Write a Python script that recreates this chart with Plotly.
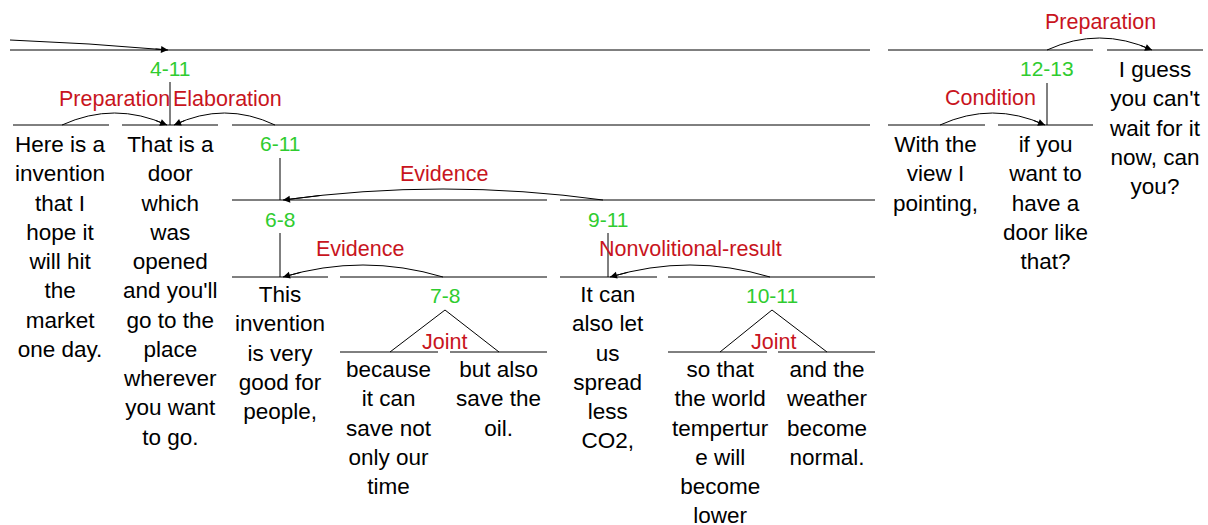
import plotly.graph_objects as go

# ---------------- data ----------------
# elementary discourse units (text, centre x, y of first line)
edu_text = [
    "Here is a<br>invention<br>that I<br>hope it<br>will hit<br>the<br>market<br>one day.",
    "That is a<br>door<br>which<br>was<br>opened<br>and you'll<br>go to the<br>place<br>wherever<br>you want<br>to go.",
    "This<br>invention<br>is very<br>good for<br>people,",
    "because<br>it can<br>save not<br>only our<br>time",
    "but also<br>save the<br>oil.",
    "It can<br>also let<br>us<br>spread<br>less<br>CO2,",
    "so that<br>the world<br>tempertur<br>e will<br>become<br>lower",
    "and the<br>weather<br>become<br>normal.",
    "With the<br>view I<br>pointing,",
    "if you<br>want to<br>have a<br>door like<br>that?",
    "I guess<br>you can't<br>wait for it<br>now, can<br>you?",
]
edu_x = [60, 170, 280, 389, 498, 608, 720, 827, 935, 1045, 1155]
edu_y = [145, 145, 295, 370, 370, 295, 370, 370, 145, 145, 70]

# horizontal span lines (x0, x1, y)
hline_x0 = [10, 888, 1107, 13, 122, 232, 888, 998, 232, 560, 232, 340, 560, 668, 340, 450, 668, 778]
hline_x1 = [870, 1093, 1203, 109, 218, 870, 985, 1093, 547, 875, 328, 547, 657, 875, 438, 547, 767, 875]
hline_y = [50, 50, 50, 125, 125, 125, 125, 125, 200, 200, 277, 277, 277, 277, 352, 352, 352, 352]

# span labels (green) and their nucleus lines
span_labels = ["4-11", "6-11", "6-8", "9-11", "7-8", "10-11", "12-13"]
span_x = [170, 280, 280, 608, 445, 772, 1047]
span_y = [68, 143, 219, 219, 295, 295, 68]

vline_x = [170, 280, 280, 608, 1047]
vline_y0 = [82, 158, 233, 233, 83]
vline_y1 = [125, 200, 277, 277, 125]

# joint triangles (apex x, apex y, left x, right x, base y)
tri_apex_x = [445, 772]
tri_apex_y = [310, 310]
tri_left_x = [390, 720]
tri_right_x = [499, 827]
tri_base_y = [352, 352]

# relation labels (red)
rel_labels = ["Preparation", "Elaboration", "Evidence", "Evidence",
              "Nonvolitional-result", "Joint", "Joint", "Condition", "Preparation"]
rel_x = [114, 227, 444, 360, 690, 444, 773, 990, 1100]
rel_y = [99, 99, 174, 249, 249, 342, 342, 98, 22]

# satellite -> nucleus arcs (start x, end x, baseline y, peak height)
arc_x0 = [62, 275, 603, 443, 770, 940, 1047]
arc_x1 = [167, 174, 283, 283, 610, 1045, 1152]
arc_y = [125, 125, 200, 277, 277, 125, 50]
arc_h = [12, 12, 11, 12, 12, 12, 12]

# incoming arrow from off-screen
in_x0, in_y0, in_x1, in_y1 = 10, 40, 168, 50

BLACK = "#000000"
GREEN = "#2fcc2f"
RED = "#c81420"
FONT = "Liberation Sans, Arial, sans-serif"

fig = go.Figure()
shapes = []
annotations = []

for x0, x1, y in zip(hline_x0, hline_x1, hline_y):
    shapes.append(dict(type="line", x0=x0, x1=x1, y0=y, y1=y, xref="x", yref="y",
                       line=dict(color=BLACK, width=1)))

for x, y0, y1 in zip(vline_x, vline_y0, vline_y1):
    shapes.append(dict(type="line", x0=x, x1=x, y0=y0, y1=y1, xref="x", yref="y",
                       line=dict(color=BLACK, width=1)))

for ax_, ay_, lx, rx, by in zip(tri_apex_x, tri_apex_y, tri_left_x, tri_right_x, tri_base_y):
    shapes.append(dict(type="path", path=f"M {lx},{by} L {ax_},{ay_} L {rx},{by}",
                       xref="x", yref="y", line=dict(color=BLACK, width=1)))

for x0, x1, y, h in zip(arc_x0, arc_x1, arc_y, arc_h):
    cx = (x0 + x1) / 2
    cy = y - 2 * h
    shapes.append(dict(type="path", path=f"M {x0},{y} Q {cx},{cy} {x1},{y}",
                       xref="x", yref="y", line=dict(color=BLACK, width=1)))
    # arrowhead: tangent at end points towards control point
    t = 0.12
    tx = (1 - t) ** 2 * x1 + 2 * t * (1 - t) * cx + t * t * x0
    ty = (1 - t) ** 2 * y + 2 * t * (1 - t) * cy + t * t * y
    annotations.append(dict(x=x1, y=y, ax=tx, ay=ty, xref="x", yref="y",
                            axref="x", ayref="y", text="", showarrow=True,
                            arrowhead=2, arrowsize=1.4, arrowwidth=1,
                            arrowcolor=BLACK, standoff=0, startstandoff=0))

shapes.append(dict(type="path",
                   path=f"M {in_x0},{in_y0} Q {(in_x0+in_x1)/2},{in_y0+3} {in_x1},{in_y1}",
                   xref="x", yref="y", line=dict(color=BLACK, width=1)))
annotations.append(dict(x=in_x1, y=in_y1, ax=in_x1 - 14, ay=in_y1 - 1.2, xref="x", yref="y",
                        axref="x", ayref="y", text="", showarrow=True,
                        arrowhead=2, arrowsize=1.4, arrowwidth=1,
                        arrowcolor=BLACK, standoff=0))

for t, x, y in zip(edu_text, edu_x, edu_y):
    annotations.append(dict(x=x, y=y - 15, xref="x", yref="y", text=t, showarrow=False,
                            xanchor="center", yanchor="top", align="center",
                            font=dict(family=FONT, size=22.5, color=BLACK)))

for t, x, y in zip(span_labels, span_x, span_y):
    annotations.append(dict(x=x, y=y, xref="x", yref="y", text=t, showarrow=False,
                            xanchor="center", yanchor="middle",
                            font=dict(family=FONT, size=21, color=GREEN)))

for t, x, y in zip(rel_labels, rel_x, rel_y):
    annotations.append(dict(x=x, y=y, xref="x", yref="y", text=t, showarrow=False,
                            xanchor="center", yanchor="middle",
                            font=dict(family=FONT, size=21.5, color=RED)))

fig.add_trace(go.Scatter(x=[0, 1208], y=[0, 525], mode="markers",
                         marker=dict(opacity=0), hoverinfo="skip", showlegend=False))

fig.update_layout(
    width=1208, height=525,
    margin=dict(l=0, r=0, t=0, b=0),
    paper_bgcolor="white", plot_bgcolor="white",
    xaxis=dict(range=[0, 1208], visible=False, fixedrange=True),
    yaxis=dict(range=[525, 0], visible=False, fixedrange=True),
    shapes=shapes, annotations=annotations, showlegend=False,
)

fig.write_html("out.html", config={"displayModeBar": False},
               post_script="document.body.style.margin='0';document.body.style.overflow='hidden';")
